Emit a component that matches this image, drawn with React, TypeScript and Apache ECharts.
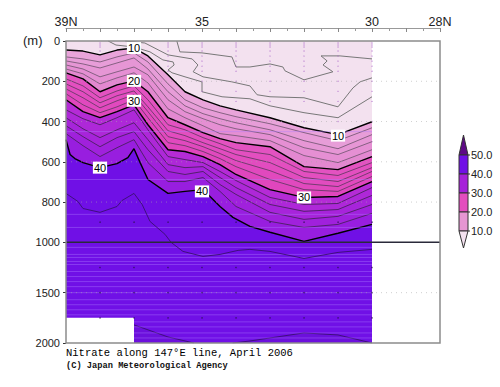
import React, { useEffect, useRef } from "react";
import * as echarts from "echarts";

// Station grid (deg N) shared by the main contours
const lats = [39, 38.5, 38, 37.5, 37, 36.59, 36, 35.5, 34.97, 34.47, 34, 33, 32, 31, 30];

// Depth (m) of each nitrate contour at the stations
const c10 = [45, 50, 69, 45, 35, 74, 168, 252, 292, 322, 342, 381, 431, 465, 401];
const c12 = [79, 89, 104, 79, 59, 104, 213, 292, 332, 356, 376, 411, 455, 495, 431];
const c14 = [99, 114, 134, 109, 84, 139, 252, 322, 361, 386, 406, 441, 495, 535, 465];
const c16 = [119, 139, 178, 153, 129, 168, 292, 351, 386, 416, 436, 465, 530, 564, 500];
const c18 = [139, 163, 213, 183, 158, 208, 337, 381, 421, 460, 470, 495, 569, 604, 540];
const c20 = [158, 188, 252, 218, 198, 252, 381, 416, 455, 485, 505, 525, 624, 639, 574];
const c22 = [188, 223, 282, 248, 223, 292, 416, 441, 480, 510, 540, 564, 648, 668, 604];
const c24 = [213, 252, 307, 272, 248, 327, 446, 470, 505, 535, 564, 604, 678, 698, 629];
const c26 = [238, 282, 332, 297, 267, 351, 475, 495, 525, 559, 594, 644, 708, 723, 648];
const c28 = [262, 317, 356, 327, 292, 381, 505, 520, 549, 584, 624, 688, 738, 747, 673];
const c30 = [292, 351, 381, 351, 317, 416, 540, 549, 574, 614, 663, 738, 777, 772, 698];
const c32 = [342, 386, 416, 381, 342, 441, 574, 589, 604, 648, 693, 777, 812, 807, 728];
const c34 = [381, 436, 480, 441, 406, 490, 614, 629, 624, 678, 728, 812, 846, 837, 767];
const c36 = [421, 475, 525, 480, 450, 540, 648, 663, 648, 713, 762, 851, 886, 871, 812];
const c38 = [460, 520, 574, 530, 490, 604, 698, 698, 678, 747, 822, 896, 926, 911, 856];

const c40Lat = [39, 38.88, 38.74, 38.5, 38, 37.5, 37.18, 37, 36.82, 36.59, 36, 35.5, 34.97, 34.47, 34.09, 33.59, 33, 32, 31, 30];
const c40 = [490, 564, 584, 604, 629, 609, 579, 535, 604, 688, 757, 747, 738, 822, 876, 921, 950, 995, 955, 911];

const c45Lat = [39, 38.65, 38.5, 38, 37.5, 37.35, 37, 36.76, 36.53, 36.09, 35.91, 35.56, 34.97, 34.47, 33.94, 33.59, 33, 32, 31, 30];
const c45 = [757, 797, 832, 851, 822, 792, 757, 812, 896, 960, 1000, 1090, 1140, 1120, 1080, 1070, 1090, 1160, 1100, 1070];

const deepALat = [37, 36, 35.24];
const deepA = [1820, 1940, 2000];
const deepBLat = [34.1, 33.59, 33, 32, 31, 30];
const deepB = [2000, 1980, 1950, 1900, 1920, 2000];

// Thin contours below 10 (folded, so each has its own latitudes)
const laLat = [37.76, 37.53, 37, 36.53, 36.15, 35.85, 35.82, 36, 35.88, 35.5, 35, 35, 34.41, 33.59, 33, 32, 31, 30];
const la = [0, 20, 30, 54, 94, 104, 119, 144, 158, 178, 203, 252, 277, 287, 322, 356, 381, 277];
const lbLat = [37.26, 36.68, 36, 35.29, 35.12, 35.26, 34.97, 34.12, 33.59, 33.38, 33, 32, 31, 30.56, 30.35, 30];
const lb = [0, 10, 69, 89, 119, 153, 178, 203, 223, 267, 277, 282, 327, 233, 203, 183];
const lcLat = [35.74, 35.65, 35, 34.12, 34, 33.59, 33, 32.62, 32.56, 32, 31.15, 31.44, 31.32, 31.5, 30.94, 30];
const lc = [0, 54, 59, 79, 129, 129, 114, 129, 148, 193, 153, 119, 99, 74, 74, 89];

const surfaceLat = [39, 30];
const surface = [0, 0];

const mainContours = [c10, c12, c14, c16, c18, c20, c22, c24, c26, c28, c30, c32, c34, c36, c38];
const bandColors = ["#e9a4da", "#e79dd8", "#e696d5", "#e58fd3", "#e388d0", "#e352c1", "#e34fc0", "#e24cbf", "#e149be", "#e046bd", "#b52bd6", "#ae28d8", "#a724da", "#a021dc", "#981edf"];
const thickIndex = [0, 5, 10];

const stripeDepths = [450, 688, 861, 926, 1050, 1120, 1150, 1190, 1220, 1290, 1340, 1390, 1440, 1500, 1570, 1620, 1670, 1720, 1790, 1840, 1900, 1950];
const gridDepths = [200, 400, 600, 800, 1500];
const stationLats = [38, 37, 36, 35, 34, 33, 32, 31, 30];
const upperDepths = [10, 20, 30, 50, 75, 100, 125, 150, 200, 250, 300, 400, 500];
const deepDepths = [900, 1250, 1500, 1750];
const depthTicks = [0, 200, 400, 600, 800, 1000, 1500, 2000];
const latLabels: Record<number, string> = { 39: "39N", 35: "35", 30: "30", 28: "28N" };
const contourLabels = [
  [37, 35, 10], [37, 198, 20], [37, 297, 30], [38, 629, 40], [35, 747, 40], [32, 777, 30], [31, 470, 10],
];
const barLevels = ["50.0", "40.0", "30.0", "20.0", "10.0"];
const barColors = ["#7010e6", "#a621d9", "#e34dbe", "#e696d2"];

const stretch = (d: number) => (d <= 1000 ? d : 1000 + (d - 1000) * 0.5);
const unstretch = (v: number) => (v <= 1000 ? v : 1000 + (v - 1000) * 2);
const pts = (la_: number[], d: number[]) => la_.map((l, i) => [l, stretch(d[i])]);

const base = { type: "line", symbol: "none", silent: true, smooth: false };

function buildSeries() {
  const s: any[] = [];
  const add = (lat: number[], d: number[], color: string | null, lw: number, lc_: string, z = 2) =>
    s.push({
      ...base,
      z,
      data: pts(lat, d),
      lineStyle: { color: lc_, width: lw },
      ...(color ? { areaStyle: { color, opacity: 1, origin: "end" } } : {}),
    });
  add(surfaceLat, surface, "#f3e1ef", 0, "#f3e1ef", 0);
  s.push({
    type: "scatter",
    silent: true,
    z: 1,
    symbolSize: 1.2,
    itemStyle: { color: "#a860c8" },
    data: stationLats.flatMap((l) => upperDepths.map((d) => [l, stretch(d)])),
  });
  add(lcLat, lc, null, 1, "#777", 1);
  add(lbLat, lb, null, 1, "#777", 1);
  add(laLat, la, null, 1, "#777", 1);
  mainContours.forEach((c, i) => {
    const thick = thickIndex.includes(i);
    add(lats, c, bandColors[i], thick ? 1.4 : 0.9, thick ? "#000" : i < 5 ? "#7a5a78" : i < 10 ? "#6a3a68" : "#4a2060");
  });
  add(c40Lat, c40, "#7010e6", 1.4, "#000");
  add(deepALat, deepA, "#6c10dc", 0.9, "#3a1070", 2);
  add(deepBLat, deepB, "#6c10dc", 0.9, "#3a1070", 2);
  stripeDepths.forEach((d) =>
    s.push({
      ...base,
      z: 2,
      data: pts([39, 30], [d, d]),
      lineStyle: { color: "rgba(175,125,255,0.4)", width: 1 },
    })
  );
  add(c45Lat, c45, null, 0.9, "#3a1070", 3);
  s.push({
    ...base,
    z: 4,
    data: pts([39, 37], [1750, 1750]),
    lineStyle: { color: "#fff", width: 0 },
    areaStyle: { color: "#fff", opacity: 1, origin: "end" },
  });
  gridDepths.forEach((d) =>
    s.push({
      ...base,
      z: 3,
      data: pts([39, 28], [d, d]),
      lineStyle: { color: "rgba(170,170,170,0.55)", width: 1, type: [1, 4] },
    })
  );
  s.push({
    ...base,
    z: 4,
    data: pts([39, 28], [1000, 1000]),
    lineStyle: { color: "#2a2a3a", width: 1.5 },
  });
  s.push({
    type: "scatter",
    silent: true,
    z: 4,
    symbolSize: 1.5,
    itemStyle: { color: "#2a1050" },
    data: stationLats.flatMap((l) => deepDepths.map((d) => [l, stretch(d)])),
  });
  s.push({
    type: "scatter",
    silent: true,
    symbolSize: 1,
    z: 6,
    itemStyle: { color: "transparent" },
    data: contourLabels.map((c) => [c[0], stretch(c[1]), c[2]]),
    label: {
      show: true,
      position: "inside",
      opacity: 1,
      formatter: (p: any) => String(p.value[2]),
      color: "#000",
      backgroundColor: "#fff",
      padding: [1, 1, 0, 1],
      fontSize: 11,
      fontFamily: "Liberation Sans",
    },
  });
  return s;
}

function buildGraphic() {
  const g: any[] = [];
  const common = { z: 10, silent: true };
  g.push({
    type: "rect",
    ...common,
    shape: { x: 66, y: 41, width: 374, height: 302 },
    style: { fill: "none", stroke: "#8c8c8c", lineWidth: 1.5 },
  });
  g.push({
    type: "text",
    ...common,
    x: 23,
    y: 34,
    style: { text: "(m)", fontSize: 13, fontFamily: "Liberation Sans", fill: "#222" },
  });
  g.push({
    type: "text",
    ...common,
    x: 66,
    y: 347,
    style: { text: "Nitrate along 147\u00b0E line, April 2006", fontSize: 10.5, fontFamily: "Liberation Mono", fill: "#000" },
  });
  g.push({
    type: "text",
    ...common,
    x: 66,
    y: 361,
    style: { text: "(C) Japan Meteorological Agency", fontSize: 8.7, fontFamily: "Liberation Mono", fontWeight: "bold", fill: "#111" },
  });
  const bx0 = 459, bx1 = 468, bw = bx1 - bx0, by0 = 155, step = 19;
  const stroke = { stroke: "#333", lineWidth: 1 };
  g.push({
    type: "polygon", ...common,
    shape: { points: [[bx0, by0], [463.5, 135], [bx1, by0]] },
    style: { fill: "#5e0a86", ...stroke },
  });
  barColors.forEach((c, i) =>
    g.push({
      type: "rect", ...common,
      shape: { x: bx0, y: by0 + i * step, width: bw, height: step },
      style: { fill: c, ...stroke },
    })
  );
  g.push({
    type: "polygon", ...common,
    shape: { points: [[bx0, by0 + 4 * step], [463.5, by0 + 4 * step + 17], [bx1, by0 + 4 * step]] },
    style: { fill: "#f3e1ef", ...stroke },
  });
  barLevels.forEach((t, i) => {
    g.push({
      type: "line", ...common,
      shape: { x1: bx1, y1: by0 + i * step, x2: bx1 + 2, y2: by0 + i * step },
      style: stroke,
    });
    g.push({
      type: "text", ...common,
      x: 471,
      y: by0 + i * step - 6,
      style: { text: t, fontSize: 11, fontFamily: "Liberation Sans", fill: "#222" },
    });
  });
  return g;
}

export default function App() {
  const ref = useRef<HTMLDivElement>(null);
  useEffect(() => {
    document.body.style.margin = "0";
    const chart = echarts.init(ref.current!, undefined, { renderer: "svg" });
    chart.setOption({
      animation: false,
      backgroundColor: "#fff",
      grid: { left: 66, top: 41, width: 374, height: 302 },
      xAxis: {
        type: "value",
        position: "top",
        offset: 13,
        min: 28,
        max: 39,
        interval: 1,
        inverse: true,
        splitLine: { show: false },
        axisLine: { show: true, onZero: false, lineStyle: { color: "#999", width: 1 } },
        axisTick: { show: true, inside: true, length: 4, lineStyle: { color: "#888" } },
        minorTick: { show: true, splitNumber: 2, length: 3, lineStyle: { color: "#999" } },
        axisLabel: {
          margin: 0,
          fontSize: 12.5,
          fontFamily: "Liberation Sans",
          color: "#222",
          showMinLabel: true,
          showMaxLabel: true,
          hideOverlap: false,
          formatter: (v: number) => latLabels[v] ?? "",
        },
      },
      yAxis: {
        type: "value",
        min: 0,
        max: 1500,
        inverse: true,
        splitLine: { show: false },
        axisLine: { show: false, onZero: false },
        axisTick: {
          show: true,
          length: 3,
          customValues: depthTicks.map(stretch),
          lineStyle: { color: "#333" },
        },
        axisLabel: {
          margin: 6,
          fontSize: 11,
          fontFamily: "Liberation Sans",
          color: "#222",
          customValues: depthTicks.map(stretch),
          formatter: (v: number) => String(unstretch(v)),
        },
      },
      series: buildSeries(),
      graphic: buildGraphic(),
    });
    return () => chart.dispose();
  }, []);
  return <div ref={ref} style={{ width: 500, height: 387, position: "absolute", left: 0, top: 0 }} />;
}
